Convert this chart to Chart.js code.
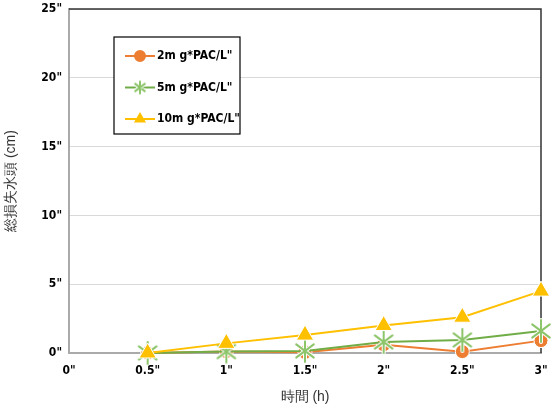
<!DOCTYPE html>
<html><head><meta charset="utf-8">
<script src="https://cdn.jsdelivr.net/npm/chart.js@4"></script>
<style>html,body{margin:0;padding:0;background:#fff}</style>
</head><body><canvas id="c" width="555" height="406"></canvas>
<script>
const hours = [0.5, 1, 1.5, 2, 2.5, 3];
const pac2 = [0, 0.1, 0.05, 0.6, 0.1, 0.9];
const pac5 = [0, 0.1, 0.15, 0.8, 0.95, 1.6];
const pac10 = [0, 0.7, 1.3, 2.0, 2.6, 4.5];
const seriesNames = ['2m g*PAC/L"', '5m g*PAC/L"', '10m g*PAC/L"'];
const xTitle = '時間 (h)';
const yTitle = '総損失水頭 (cm)';

function pts(v){ return hours.map((h,i)=>({x:h,y:v[i]})); }
const FONT = '"DejaVu Sans Condensed","DejaVu Sans"';

// let layout padding alone decide the plot frame (markers are drawn unclipped anyway)
Chart.LineController.prototype.getMaxOverflow = function(){ return 0; };

function asterisk(r){
  const s = r*2+4, c = document.createElement('canvas');
  c.width=s; c.height=s;
  const g=c.getContext('2d'), m=s/2, d=r*0.8;
  const draw=(col,w)=>{g.strokeStyle=col; g.lineWidth=w; g.lineCap='round'; g.beginPath();
    g.moveTo(m,m-r); g.lineTo(m,m+r); g.moveTo(m-d,m-d*0.75); g.lineTo(m+d,m+d*0.75); g.moveTo(m-d,m+d*0.75); g.lineTo(m+d,m-d*0.75); g.stroke();};
  draw('#fff',4); draw('#8CC56A',2);
  return c;
}
const starBig = asterisk(11), starSmall = asterisk(6);

const frame = {
  id:'frame',
  beforeDatasetsDraw(chart){
    const {ctx, chartArea:a} = chart;
    ctx.save();
    ctx.strokeStyle='#333'; ctx.lineWidth=1.5;
    ctx.beginPath(); ctx.moveTo(a.left,a.top); ctx.lineTo(a.right,a.top); ctx.lineTo(a.right,a.bottom); ctx.stroke();
    ctx.restore();
  }
};
const legendBox = {
  id:'legendBox',
  afterDraw(chart){
    const ctx=chart.ctx; ctx.save();
    const x0=114,y0=37,w=126,h=97;
    ctx.fillStyle='#fff'; ctx.fillRect(x0,y0,w,h);
    ctx.strokeStyle='#000'; ctx.lineWidth=1.2; ctx.strokeRect(x0,y0,w,h);
    chart.data.datasets.forEach((d,i)=>{
      const y=56+i*31.5;
      ctx.strokeStyle=d.borderColor; ctx.lineWidth=2;
      ctx.beginPath(); ctx.moveTo(125,y); ctx.lineTo(155,y); ctx.stroke();
      ctx.fillStyle=d.backgroundColor; ctx.strokeStyle=d.borderColor;
      const ps = d.pointStyle===starBig ? starSmall : d.pointStyle;
      Chart.helpers.drawPoint(ctx,{pointStyle:ps,radius:5,borderWidth:1.5},140,y);
      ctx.fillStyle='#000'; ctx.font='bold 12px '+FONT; ctx.textBaseline='middle'; ctx.textAlign='left';
      ctx.fillText(d.label,157,y);
    });
    ctx.restore();
  }
};

const ds = [
  {label:seriesNames[0], data:pts(pac2), order:3, borderColor:'#ED7D31', backgroundColor:'#ED7D31', pointStyle:'circle', pointRadius:7, pointBorderColor:'#fff', pointBorderWidth:1, borderWidth:2, clip:false},
  {label:seriesNames[1], data:pts(pac5), order:2, borderColor:'#70AD47', backgroundColor:'#70AD47', pointStyle:starBig, pointRadius:10, borderWidth:2, clip:false},
  {label:seriesNames[2], data:pts(pac10), order:1, borderColor:'#FFC000', backgroundColor:'#FFC000', pointStyle:'triangle', pointRadius:10, pointBorderColor:'#fff', pointBorderWidth:1, borderWidth:2, clip:false}
];

new Chart(document.getElementById('c'),{
  type:'line',
  data:{datasets:ds},
  plugins:[frame,legendBox],
  options:{
    responsive:false, animation:false,
    layout:{padding:{top:9,right:14,left:0,bottom:0}},
    plugins:{legend:{display:false},tooltip:{enabled:false}},
    scales:{
      x:{type:'linear',min:0,max:3,
        afterFit:s=>{s.height=53; s.paddingLeft=0; s.paddingRight=0;},
        ticks:{stepSize:0.5,color:'#000',font:{family:FONT,weight:'bold',size:12},padding:11,callback:v=>v+'"'},
        grid:{display:false,drawTicks:false},
        border:{color:'#aaa',width:2},
        title:{display:true,text:xTitle,color:'#333',font:{size:14},padding:{top:0,bottom:0}}
      },
      y:{min:0,max:25,
        afterFit:s=>{s.width=69; s.paddingTop=0; s.paddingBottom=0;},
        ticks:{stepSize:5,color:'#000',font:{family:FONT,weight:'bold',size:12},padding:7,callback:v=>v+'"'},
        grid:{color:'#d9d9d9',drawTicks:false},
        border:{color:'#aaa',width:2},
        title:{display:true,text:yTitle,color:'#333',font:{size:14},padding:{top:3,bottom:0}}
      }
    }
  }
});
</script></body></html>
